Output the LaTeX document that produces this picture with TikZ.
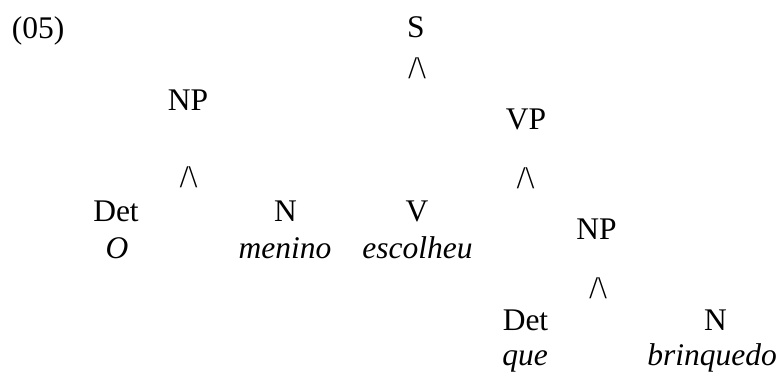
\documentclass[tikz,border=0pt]{standalone}
\usepackage{fontspec}
\setmainfont{Liberation Serif}
\begin{document}
\begin{tikzpicture}[x=1pt,y=-1pt,
  lbl/.style={inner sep=0pt,outer sep=0pt,anchor=base,font=\fontsize{31.5}{37}\selectfont},
  wrd/.style={lbl,font=\fontsize{31.5}{37}\selectfont\itshape},
  brk/.style={lbl}]
\useasboundingbox (0,0) rectangle (781,373);
\node[lbl,anchor=base west] (ex) at (12,38) {(05)};
\node[lbl] (S) at (416,37) {S};
\node[brk] (bS) at (417,78.5) {/\textbackslash};
\node[lbl] (NP1) at (188,110) {NP};
\node[brk] (bNP1) at (188.5,187.5) {/\textbackslash};
\node[lbl] (VP) at (526,129) {VP};
\node[brk] (bVP) at (525.5,188.5) {/\textbackslash};
\node[lbl] (NP2) at (596.5,239) {NP};
\node[brk] (bNP2) at (598,298.5) {/\textbackslash};
\node[lbl] (Det1) at (116,221) {Det};
\node[wrd] (w1) at (117,258) {O};
\node[lbl] (N1) at (285.5,221) {N};
\node[wrd] (w2) at (285,258) {menino};
\node[lbl] (V) at (417,221) {V};
\node[wrd] (w3) at (417.5,258) {escolheu};
\node[lbl] (Det2) at (525.5,330) {Det};
\node[wrd] (w4) at (525,365) {que};
\node[lbl] (N2) at (715.5,330) {N};
\node[wrd] (w5) at (712,365) {brinquedo};
\end{tikzpicture}
\end{document}
